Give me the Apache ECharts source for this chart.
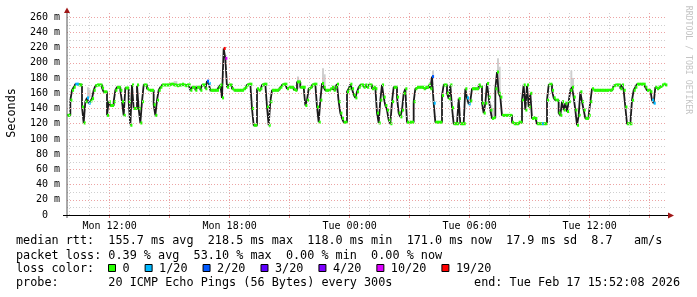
<!DOCTYPE html>
<html><head><meta charset="utf-8">
<script src="https://cdn.jsdelivr.net/npm/echarts@6/dist/echarts.min.js"></script>
<style>html,body{margin:0;padding:0;background:#fff}#c{width:697px;height:297px}</style>
</head><body><div id="c"></div>
<script>
// minutes since Mon 00:00 of the first sample (Mon 09:52:08), 5-minute steps
const START = 592.13;
const STEP = 5;
const END = START + 1800;
// median RTT (ms) per 5-minute step
const rtt = [
131,131,151,164,168,172,172,171,171,142,
121,149,154,147,150,153,164,170,171,171,
171,167,162,162,131,149,144,144,149,164,
168,168,164,149,131,167,167,149,118,171,
140,140,171,140,121,149,171,171,166,164,
164,164,145,131,151,164,168,171,171,171,
171,171,172,172,171,171,170,171,171,172,
171,170,171,171,164,168,168,164,168,168,
164,171,171,166,176,173,164,164,164,164,
164,168,171,154,219,206,168,171,171,166,
164,164,164,164,164,164,166,168,171,172,
172,140,118,118,166,164,166,171,172,172,
142,118,149,164,164,164,164,166,168,171,
172,172,166,168,168,168,165,164,175,175,
168,168,168,144,151,166,168,171,172,172,
142,122,151,173,168,164,164,164,166,168,
164,168,172,149,134,127,122,122,162,166,
172,166,158,154,162,168,171,171,168,171,
168,171,171,166,168,166,134,121,151,171,
155,144,138,125,120,149,168,168,155,134,
129,138,160,166,122,122,122,122,149,166,
168,168,168,168,166,168,168,171,166,182,
147,122,122,122,122,157,171,171,160,153,
171,141,120,120,120,153,120,120,120,166,
154,146,150,166,166,166,166,171,169,147,
134,147,173,155,138,127,128,166,188,160,
155,131,131,131,131,131,131,122,120,120,
120,122,122,151,171,138,171,142,160,127,
128,127,120,120,120,120,120,120,151,171,
172,164,154,151,151,134,131,149,138,147,
136,149,164,168,155,138,118,131,162,149,
138,127,127,131,149,166,164,164,164,164,
164,164,164,164,164,164,164,166,170,171,
171,171,166,171,164,142,120,120,120,151,
164,168,172,172,172,172,172,168,164,164,
162,151,147,168,166,168,169,171,172,171
];
// packet loss (pings lost out of 20) at the steps where it was non-zero
const lossIdx = [5,6,12,13,84,85,94,95,219,220,240,241,285,351,352];
const lossVal = [1,1,1,1,2,1,19,10,2,1,1,1,1,1,1];
// smoke (ping spread) where visible
const smokeIdx = [12,13,64,65,138,139,153,154,219,254,255,258,259,302,303];
const smokeLo  = [155,155,171,171,166,166,166,166,182,127,127,160,160,168,168];
const smokeHi  = [168,165,176,176,182,178,193,185,190,145,140,206,195,190,180];
// legend
const lossLevels = [0,1,2,3,4,10,19];
const lossLabels = ['0','1/20','2/20','3/20','4/20','10/20','19/20'];
const lossColors = ['#26ff00','#00b8ff','#0059ff','#5e00ff','#7e00ff','#dd00ff','#ff0000'];
const xLabelValues = [720,1080,1440,1800,2160];
const yTicks = [0,20,40,60,80,100,120,140,160,180,200,220,240,260];
const statsLine1 = 'median rtt:  155.7 ms avg  218.5 ms max  118.0 ms min  171.0 ms now  17.9 ms sd  8.7   am/s';
const statsLine2 = 'packet loss: 0.39 % avg  53.10 % max  0.00 % min  0.00 % now';
const probeLine = 'probe:       20 ICMP Echo Pings (56 Bytes) every 300s';
const endLine = 'end: Tue Feb 17 15:52:08 2026';

const MONO = '"DejaVu Sans Mono", monospace';
function lossColor(n){
  let c = lossColors[0];
  for (let k=0;k<lossLevels.length;k++){ if (n>=lossLevels[k]) c = lossColors[k]; }
  return c;
}
const lossOf = i => { const k = lossIdx.indexOf(i); return k<0 ? 0 : lossVal[k]; };
const medianData = rtt.map((v,i)=>[START+i*STEP, v, lossOf(i)]);
const lineData = medianData.map(d=>[d[0],d[1]]);
lineData.push([START+rtt.length*STEP, rtt[rtt.length-1]]);
const smokeData = smokeIdx.map((i,k)=>[START+i*STEP, smokeLo[k], smokeHi[k]]);

// grid lines
const gridMarks = [];
for (let m=600; m<=END; m+=60){
  const major = m % 180 === 0;
  gridMarks.push({xAxis:m, lineStyle:{color: major?'#eca4a4':'#cfcfcf', type:[1,2], width:1}});
}
for (let v=10; v<=260; v+=10){
  const major = v % 20 === 0;
  gridMarks.push({yAxis:v, lineStyle:{color: major?'#eca4a4':'#cfcfcf', type:[1,2], width:1}});
}

const chart = echarts.init(document.getElementById('c'), null, {renderer:'canvas'});
const legendEls = [];
let bx = 108;
lossLabels.forEach((lab,k)=>{
  legendEls.push({type:'rect', shape:{x:bx+0.5, y:264.5, width:7, height:7}, style:{fill:lossColors[k], stroke:'#000', lineWidth:1}});
  legendEls.push({type:'text', x:bx+14.5, y:269, style:{text:lab, font:'11.8px '+MONO, fill:'#000', textVerticalAlign:'middle'}});
  bx = bx + 14.5 + lab.length*7.11 + 15;
});

chart.setOption({
  animation:false,
  backgroundColor:'#ffffff',
  grid:{left:67, top:13, width:600, height:202, containLabel:false},
  xAxis:{type:'value', min:START, max:END,
    axisLine:{show:false},
    splitLine:{show:false},
    axisTick:{show:true, customValues:[720,900,1080,1260,1440,1620,1800,1980,2160,2340], length:3, lineStyle:{color:'#e89090'}},
    axisLabel:{customValues:xLabelValues, margin:6, fontFamily:MONO, fontSize:10, color:'#000',
      formatter:v=>{const d=v<1440?'Mon':'Tue'; const h=Math.floor((v%1440)/60); return d+' '+String(h).padStart(2,'0')+':00';}}
  },
  yAxis:{type:'value', min:0, max:265.6,
    axisLine:{show:false}, splitLine:{show:false}, axisTick:{show:false},
    axisLabel:{customValues:yTicks, margin:7, fontFamily:MONO, fontSize:10, color:'#000',
      formatter:v=> v===0 ? '0  ' : v+' m'}
  },
  series:[
    {type:'line', data:[], silent:true, z:0,
     markLine:{silent:true, symbol:['none','none'], label:{show:false}, animation:false, data:gridMarks}},
    {type:'custom', z:1, silent:true, data:smokeData,
     renderItem:(p,api)=>{const a=api.coord([api.value(0),api.value(2)]), b=api.coord([api.value(0)+STEP,api.value(1)]);
       return {type:'rect', shape:{x:a[0], y:a[1], width:b[0]-a[0]+0.3, height:b[1]-a[1]}, style:{fill:'#cfcfcf'}};}},
    {type:'line', z:2, data:lineData, step:'end', showSymbol:false, silent:true,
     lineStyle:{color:'#1c1c1c', width:1.8}},
    {type:'custom', z:3, silent:true, data:medianData,
     renderItem:(p,api)=>{const v=api.value(1); const a=api.coord([api.value(0),v]), b=api.coord([api.value(0)+STEP,v]);
       return {type:'rect', shape:{x:a[0], y:a[1]-1.5, width:b[0]-a[0]+0.4, height:3}, style:{fill:lossColor(api.value(2))}};}}
  ],
  graphic:[
    {type:'line', shape:{x1:67, y1:218, x2:67, y2:11}, style:{stroke:'#555', lineWidth:1}, z:10},
    {type:'polygon', shape:{points:[[64,13],[70,13],[67,7.5]]}, style:{fill:'#a01818'}, z:10},
    {type:'line', shape:{x1:63, y1:215.5, x2:669, y2:215.5}, style:{stroke:'#000', lineWidth:1}, z:10},
    {type:'polygon', shape:{points:[[668,212.5],[668,218.5],[674,215.5]]}, style:{fill:'#a01818'}, z:10},
    {type:'text', x:12, y:113, rotation:Math.PI/2, style:{text:'Seconds', font:'11.8px '+MONO, fill:'#000', textAlign:'center', textVerticalAlign:'middle'}},
    {type:'text', x:688, y:60, rotation:-Math.PI/2, style:{text:'RRDTOOL / TOBI OETIKER', font:'8.2px '+MONO, fill:'#c4c4c4', textAlign:'center', textVerticalAlign:'middle'}},
    {type:'text', x:16, y:241, style:{text:statsLine1, font:'11.8px '+MONO, fill:'#000', textVerticalAlign:'middle'}},
    {type:'text', x:16, y:255.5, style:{text:statsLine2, font:'11.8px '+MONO, fill:'#000', textVerticalAlign:'middle'}},
    {type:'text', x:16, y:269, style:{text:'loss color:', font:'11.8px '+MONO, fill:'#000', textVerticalAlign:'middle'}},
    ...legendEls,
    {type:'text', x:16, y:283, style:{text:probeLine, font:'11.8px '+MONO, fill:'#000', textVerticalAlign:'middle'}},
    {type:'text', x:680, y:283, style:{text:endLine, font:'11.8px '+MONO, fill:'#000', textAlign:'right', textVerticalAlign:'middle'}}
  ]
});
</script></body></html>
